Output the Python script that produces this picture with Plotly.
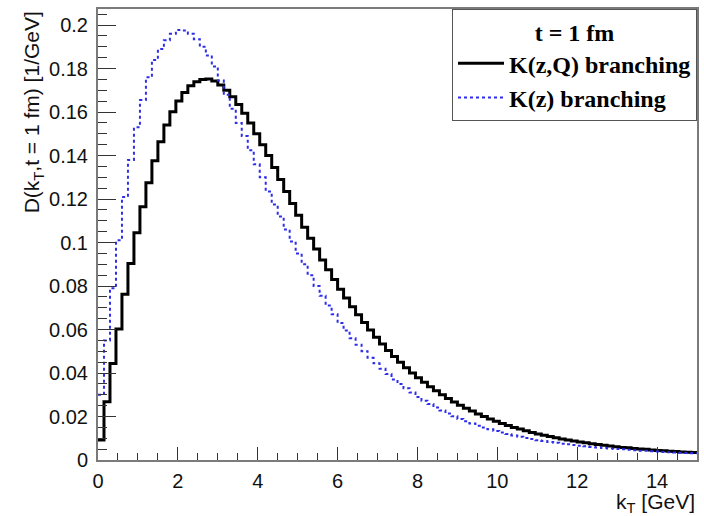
import numpy as np
import plotly.graph_objects as go

# Histogram binning: 100 bins from 0 to 15 GeV
kt_min, kt_max, n_bins = 0.0, 15.0, 100

# D(kT, t = 1 fm) [1/GeV] -- K(z,Q) branching (black)
d_kzq = [
    0.0092, 0.0268, 0.0444, 0.0602, 0.0762, 0.0904, 0.1045, 0.1165, 0.1275, 0.1376,
    0.1464, 0.1540, 0.1602, 0.1651, 0.1690, 0.1721, 0.1739, 0.1750, 0.1752, 0.1743,
    0.1725, 0.1700, 0.1670, 0.1635, 0.1595, 0.1550, 0.1500, 0.1450, 0.1400, 0.1345,
    0.1290, 0.1235, 0.1180, 0.1125, 0.1070, 0.1020, 0.0970, 0.0920, 0.0875, 0.0830,
    0.0785, 0.0745, 0.0705, 0.0668, 0.0632, 0.0598, 0.0565, 0.0534, 0.0504, 0.0476,
    0.0449, 0.0424, 0.0400, 0.0378, 0.0357, 0.0337, 0.0318, 0.0300, 0.0283, 0.0267,
    0.0252, 0.0238, 0.0225, 0.0212, 0.0200, 0.0189, 0.0178, 0.0168, 0.0159, 0.0150,
    0.0142, 0.0134, 0.0127, 0.0120, 0.0114, 0.0108, 0.0102, 0.0097, 0.0092, 0.0087,
    0.0083, 0.0079, 0.0075, 0.0071, 0.0068, 0.0064, 0.0061, 0.0058, 0.0056, 0.0053,
    0.0051, 0.0049, 0.0046, 0.0044, 0.0042, 0.0040, 0.0039, 0.0037, 0.0036, 0.0034,
]

# D(kT, t = 1 fm) [1/GeV] -- K(z) branching (blue, dotted)
d_kz = [
    0.0300, 0.0550, 0.0790, 0.1010, 0.1210, 0.1380, 0.1530, 0.1655, 0.1760, 0.1840,
    0.1890, 0.1930, 0.1960, 0.1977, 0.1975, 0.1960, 0.1935, 0.1900, 0.1860, 0.1810,
    0.1745, 0.1680, 0.1615, 0.1550, 0.1490, 0.1425, 0.1360, 0.1300, 0.1235, 0.1175,
    0.1120, 0.1060, 0.1005, 0.0950, 0.0900, 0.0850, 0.0800, 0.0755, 0.0710, 0.0670,
    0.0630, 0.0595, 0.0560, 0.0530, 0.0500, 0.0470, 0.0445, 0.0420, 0.0395, 0.0370,
    0.0350, 0.0330, 0.0310, 0.0290, 0.0273, 0.0257, 0.0242, 0.0228, 0.0214, 0.0201,
    0.0189, 0.0178, 0.0168, 0.0158, 0.0149, 0.0141, 0.0133, 0.0126, 0.0119, 0.0113,
    0.0107, 0.0101, 0.0096, 0.0091, 0.0087, 0.0083, 0.0079, 0.0075, 0.0072, 0.0069,
    0.0066, 0.0063, 0.0060, 0.0058, 0.0055, 0.0053, 0.0051, 0.0049, 0.0047, 0.0045,
    0.0043, 0.0042, 0.0040, 0.0039, 0.0037, 0.0036, 0.0035, 0.0033, 0.0032, 0.0031,
]

x_tickvals = [0, 2, 4, 6, 8, 10, 12, 14]
y_tickvals = [0, 0.02, 0.04, 0.06, 0.08, 0.1, 0.12, 0.14, 0.16, 0.18, 0.2]
y_ticktext = ["0", "0.02", "0.04", "0.06", "0.08", "0.1", "0.12", "0.14", "0.16", "0.18", "0.2"]

edges = np.linspace(kt_min, kt_max, n_bins + 1)


def step_xy(vals):
    # histogram outline: left edges with 'hv' steps, closed at the last edge
    return list(edges), list(vals) + [vals[-1]]


fig = go.Figure()
xs, ys = step_xy(d_kzq)
fig.add_trace(go.Scatter(x=xs, y=ys, mode="lines", line_shape="hv",
                         line=dict(color="black", width=3),
                         name="K(z,Q) branching"))
xs, ys = step_xy(d_kz)
fig.add_trace(go.Scatter(x=xs, y=ys, mode="lines", line_shape="hv",
                         line=dict(color="rgb(45,45,235)", width=2, dash="dot"),
                         name="K(z) branching"))

axis_color = "#7a7a7a"
tick_font = dict(family="Liberation Sans, Arial, sans-serif", size=20, color="#111")
serif = "Liberation Serif, Times New Roman, serif"

fig.update_layout(
    width=704, height=516,
    margin=dict(l=98, r=5, t=9, b=56),
    paper_bgcolor="white", plot_bgcolor="white",
    showlegend=True,
    legend=dict(
        x=1, xanchor="right", y=1, yanchor="top",
        bgcolor="white", bordercolor="#555", borderwidth=1,
        font=dict(family=serif, size=24, color="black", weight="bold"),
        title=dict(text="<b>t = 1 fm</b>", side="top center",
                   font=dict(family=serif, size=24, color="black")),
        tracegroupgap=0, itemwidth=46,
    ),
    xaxis=dict(
        range=[kt_min, kt_max], tickvals=x_tickvals,
        ticks="inside", ticklen=13, tickwidth=1, tickcolor="#333",
        minor=dict(dtick=0.5, ticks="inside", ticklen=7, tickcolor="#333"),
        showline=True, linecolor=axis_color, linewidth=2, mirror=True,
        showgrid=False, zeroline=False, tickfont=tick_font,
        ticklabelstandoff=2,
    ),
    yaxis=dict(
        range=[0, 0.2074], tickvals=y_tickvals, ticktext=y_ticktext,
        ticks="inside", ticklen=18, tickwidth=1, tickcolor="#333",
        minor=dict(dtick=0.005, ticks="inside", ticklen=9, tickcolor="#333"),
        showline=True, linecolor=axis_color, linewidth=2, mirror=True,
        showgrid=False, zeroline=False, tickfont=tick_font,
        ticklabelstandoff=4,
    ),
    annotations=[
        dict(text="D(k<sub>T</sub>,t = 1 fm) [1/GeV]", textangle=-90,
             xref="paper", yref="paper", x=-0.108, y=1.0,
             xanchor="center", yanchor="top", showarrow=False,
             font=dict(family="Liberation Sans, Arial, sans-serif", size=21, color="#111")),
        dict(text="k<sub>T</sub> [GeV]",
             xref="paper", yref="paper", x=1.0, y=-0.062,
             xanchor="right", yanchor="top", showarrow=False,
             font=dict(family="Liberation Sans, Arial, sans-serif", size=21, color="#111")),
    ],
)

fig.write_html("out.html", config={"displayModeBar": False},
               post_script="document.body.style.margin='0';")
